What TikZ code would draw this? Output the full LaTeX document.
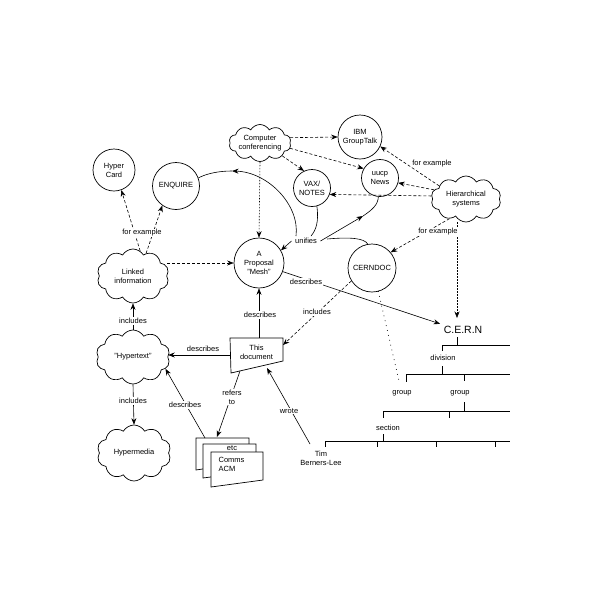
\documentclass[tikz,border=0pt]{standalone}
\usepackage{fontspec}
\setmainfont{Liberation Sans}
\usetikzlibrary{shapes.symbols,arrows.meta}
\begin{document}
\begin{tikzpicture}[x=1pt,y=-1pt,
  every node/.style={font=\fontsize{7.5}{9}\selectfont, align=center},
  circ/.style={circle,draw,line width=0.7pt,inner sep=0pt},
  cld/.style={cloud,draw,line width=0.7pt,cloud puffs=10,cloud puff arc=120,cloud ignores aspect,inner sep=0pt},
  lbl/.style={fill=white,inner sep=1pt},
  arr/.style={-{Stealth[length=6.5pt,width=5pt]}},
  dsh/.style={dash pattern=on 3pt off 2pt},
  dotl/.style={dash pattern=on 1.5pt off 1.5pt},
  line width=0.6pt]
\useasboundingbox (0,0) rectangle (600,600);

% clouds
\node[cld,minimum width=62pt,minimum height=37pt] (cc) at (260,143) {Computer\\conferencing};
\node[cld,minimum width=72pt,minimum height=54pt] (li) at (133,276) {Linked\\information};
\node[cld,minimum width=74pt,minimum height=54pt] (ht) at (133,357) {"Hypertext"};
\node[cld,minimum width=74pt,minimum height=56pt] (hm) at (134,453) {Hypermedia};
\node[cld,minimum width=70pt,minimum height=46pt] (hs) at (466,199) {Hierarchical\\systems};

% circles
\node[circ,minimum size=42pt] (hc) at (114,170) {Hyper\\Card};
\node[circ,minimum size=47pt] (enq) at (176,186) {ENQUIRE};
\node[circ,minimum size=44pt] (ibm) at (360,137) {IBM\\GroupTalk};
\node[circ,minimum size=37pt] (uucp) at (380,178) {uucp\\News};
\node[circ,minimum size=37pt] (vax) at (312,188) {VAX/\\NOTES};
\node[circ,minimum size=50pt] (mesh) at (259,263) {A\\Proposal\\"Mesh"};
\node[circ,minimum size=48pt] (cdoc) at (372,268) {CERNDOC};

% This document
\draw[line width=0.7pt] (230,338) -- (283,338) -- (283,361) -- (231,373) -- cycle;
\node[minimum width=53pt,minimum height=29pt,inner sep=0pt] (doc) at (256.5,352.5) {This\\document};
\coordinate (dinc) at (283,345);
\coordinate (dref) at (240,371);
\coordinate (dwrote) at (267,368);
\coordinate (dw) at (230,355);

% pages
\draw[fill=white,line width=0.7pt] (196,438) -- (249,438) -- (249,462) -- (196,470) -- cycle;
\draw[fill=white,line width=0.7pt] (203,444) -- (256,444) -- (256,471) -- (203,478) -- cycle;
\draw[fill=white,line width=0.7pt] (211,452) -- (263,452) -- (263,480) -- (211,487) -- cycle;
\node (etc) at (232,448.5) {etc};
\node[align=left,anchor=west] (acm) at (215,464) {Comms\\ACM};
\coordinate (prf) at (217,437);
\coordinate (pds) at (205,438);

% Tim
\node (tim) at (321,458) {Tim\\Berners-Lee};
\coordinate (twr) at (310,444);

% CERN tree
\node[font=\fontsize{10.5}{12}\selectfont] (cern) at (463,330) {C.E.R.N};
\coordinate (cerntop) at (457,318);
\draw (457,337) -- (457,345);
\draw (442,345) -- (510,345);
\draw (442,345) -- (442,351);
\node (div) at (443,358) {division};
\draw (442,366) -- (442,374);
\draw (406,374) -- (510,374);
\draw (406,374) -- (406,382);
\draw (464,374) -- (464,381);
\node (g1) at (402,393) {group};
\node (g2) at (460,393) {group};
\draw (464,402) -- (464,411);
\draw (383,411) -- (510,411);
\draw (383,411) -- (383,418);
\draw (449,411) -- (449,418);
\node (sec) at (388,428) {section};
\draw (383,434) -- (383,441);
\draw (325,441) -- (510,441);
\foreach \x in {325,377,436,495} \draw (\x,441) -- (\x,447);
\coordinate (gtick) at (399,381);

% computer conferencing edges
\draw[arr,dsh] (cc.10) -- (ibm.180);
\draw[arr,dsh] (cc.-10) -- (uucp.150);
\draw[arr,dsh] (cc.-30) -- (vax.115);
\draw[arr,dotl] (cc.south) -- (mesh.north);

% hierarchical edges
\draw[arr,dsh] (hs.154) -- (ibm.-25);
\draw[arr,dsh] (hs.164) -- (uucp.-15);
\draw[arr,dsh] (hs.175) -- (vax.-20);
\draw[arr,dsh] (hs.230) -- (cdoc.40);
\draw[arr,dotl] (cerntop |- hs.south) -- (cerntop);
\node (fe1) at (432,164) {for example};
\node[lbl] (fe2) at (438,232) {for example};

% linked information edges
\draw[arr,dsh] (li.74) -- (hc.-70);
\draw[arr,dsh] (li.60) -- (enq.-125);
\node[lbl] (fe3) at (142,233) {for example};
\draw[arr,dsh] (mesh.west -| li.east) -- (mesh.west);

% unifies
\node (uni) at (306,241) {unifies};
\coordinate (u1) at (296,236);
\coordinate (u2) at (311,236);
\coordinate (u3) at (327,239);
\coordinate (ea) at (232,171);
\coordinate (ua) at (363,216);
\draw[arr] (uni.west) -- (mesh.30);
\draw[arr] (u1) .. controls (300,205) and (268,172) .. (ea);
\draw (ea) .. controls (220,171) and (208,173) .. (enq.20);
\draw (vax.-75) .. controls (319,222) and (316,230) .. (u2);
\draw[arr] (uni.east) -- (ua);
\draw (ua) .. controls (372,210) and (378,205) .. (uucp.-95);
\draw (u3) .. controls (350,237) and (364,238) .. (cdoc.100);

% describes Mesh -> CERN
\draw[arr] (mesh.-20) -- (cern.165);
\node[lbl] (d1) at (306,282) {describes};

% CERNDOC dotted to group
\draw[line width=1pt,line cap=round,dash pattern=on 0pt off 5pt] (cdoc.-75) -- (gtick);

% includes CERNDOC -> doc
\draw[arr,dsh] (cdoc.212) -- (dinc);
\node[lbl] (inc1) at (317,312) {includes};

% doc -> mesh
\draw[arr] (doc.north -| mesh.south) -- (mesh.south);
\node[lbl] (d2) at (260,315) {describes};

% doc -> hypertext
\draw[arr] (dw) -- (dw -| ht.east);
\node (d3) at (203,349) {describes};

% refers to
\draw[arr] (dref) -- (prf);
\node[lbl] (ref) at (232,397) {refers\\to};

% pages -> hypertext
\draw[arr] (pds) -- (ht.-20);
\node[lbl] (d4) at (185,405) {describes};

% wrote
\draw[arr] (twr) -- (dwrote);
\node[lbl] (wr) at (289,411) {wrote};

% includes hypertext
\draw[arr] (ht.north) -- (li.south);
\node[lbl] (inc2) at (133,321) {includes};
\draw[arr] (ht.south) -- (hm.north);
\node[lbl] (inc3) at (133,401) {includes};
\end{tikzpicture}
\end{document}
